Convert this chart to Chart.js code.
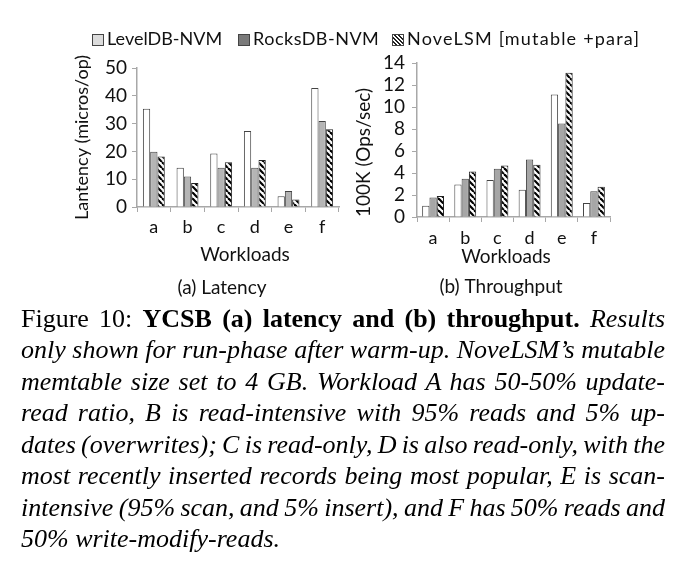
<!DOCTYPE html>
<html><head><meta charset="utf-8">
<script src="https://cdn.jsdelivr.net/npm/chart.js@4.4.1/dist/chart.umd.min.js"></script>
<style>
html,body{margin:0;padding:0;background:#fff;}
body{width:685px;height:574px;position:relative;overflow:hidden;}
canvas.c{position:absolute;left:0;top:0;}
#legend{position:absolute;top:27px;left:0;width:685px;height:24px;font-family:Lato,sans-serif;font-size:18px;color:#111;white-space:nowrap;z-index:5;line-height:22px;}
#legend span.it{position:absolute;top:0;}
#legend i{display:inline-block;width:10px;height:10px;border:1px solid #444;vertical-align:-1px;margin-right:3px;}
#caption{position:absolute;left:21px;top:302.5px;width:644px;font-family:"Liberation Serif","Times New Roman",serif;font-size:26px;line-height:31.5px;color:#000;word-spacing:-3px;}
#caption div{text-align:justify;text-align-last:justify;}
#caption div.last{text-align-last:left;word-spacing:0;}
</style></head>
<body>
<canvas id="c1" class="c" width="685" height="305"></canvas>
<canvas id="c2" class="c" width="685" height="305"></canvas>
<div id="legend"></div>
<div id="caption">
<div>Figure 10: <b>YCSB (a) latency and (b) throughput.</b> <i>Results</i></div>
<div><i>only shown for run-phase after warm-up. NoveLSM’s mutable</i></div>
<div><i>memtable size set to 4 GB. Workload A has 50-50% update-</i></div>
<div><i>read ratio, B is read-intensive with 95% reads and 5% up-</i></div>
<div><i>dates (overwrites); C is read-only, D is also read-only, with the</i></div>
<div><i>most recently inserted records being most popular, E is scan-</i></div>
<div><i>intensive (95% scan, and 5% insert), and F has 50% reads and</i></div>
<div class="last"><i>50% write-modify-reads.</i></div>
</div>
<script>
// ---- data ----
const categories = ['a', 'b', 'c', 'd', 'e', 'f'];
const seriesNames = ['LevelDB-NVM', 'RocksDB-NVM', 'NoveLSM [mutable +para]'];
const latencyLevelDB = [35.3, 14.1, 19.2, 27.3, 3.9, 42.8];
const latencyRocksDB = [19.9, 11.0, 14.1, 14.1, 5.8, 30.9];
const latencyNoveLSM = [18.2, 8.6, 16.1, 16.9, 2.7, 28.0];
const throughputLevelDB = [1.03, 2.96, 3.36, 2.48, 11.13, 1.27];
const throughputRocksDB = [1.78, 3.48, 4.38, 5.23, 8.50, 2.33];
const throughputNoveLSM = [1.90, 4.14, 4.69, 4.75, 13.12, 2.75];
const latencyTicks = [0, 10, 20, 30, 40, 50];
const throughputTicks = [0, 2, 4, 6, 8, 10, 12, 14];

// ---- hatch pattern ----
function makeHatch() {
  const s = 6;
  const p = document.createElement('canvas');
  p.width = s; p.height = s;
  const g = p.getContext('2d');
  g.fillStyle = '#fff'; g.fillRect(0, 0, s, s);
  g.strokeStyle = '#000'; g.lineWidth = 2.2;
  for (const k of [-s, 0, s]) {
    g.beginPath(); g.moveTo(k, 0); g.lineTo(k + s, s); g.stroke();
  }
  return document.getElementById('c1').getContext('2d').createPattern(p, 'repeat');
}
const hatch = makeHatch();

// ---- legend (HTML, real text) ----
const legendStyles = [
  'background:#dcdcdc;',
  'background:#7a7a7a;',
  'background:repeating-linear-gradient(45deg,#fff 0 1.5px,#222 1.5px 3px);'
];
const legendLeft = [92, 238, 392];
const legendSpacing = [0, 0.5, 1.2];
document.getElementById('legend').innerHTML = seriesNames.map((n, i) =>
  '<span class="it" style="left:' + legendLeft[i] + 'px"><i style="' + legendStyles[i] + '"></i>' +
  '<span style="letter-spacing:' + legendSpacing[i] + 'px">' + n + '</span></span>').join('');

Chart.defaults.font.family = 'Lato, sans-serif';
Chart.defaults.color = '#111';
Chart.defaults.animation = false;

// axis caption lines under each chart ("Workloads" and sub-caption)
const underText = {
  id: 'underText',
  afterDraw(chart, args, o) {
    const ctx = chart.ctx, a = chart.chartArea;
    ctx.save();
    ctx.fillStyle = '#111'; ctx.textAlign = 'center'; ctx.textBaseline = 'middle';
    for (const t of o.items) {
      ctx.font = t.size + 'px Lato, sans-serif';
      ctx.fillText(t.text, (a.left + a.right) / 2 + t.dx, a.bottom + t.dy);
    }
    ctx.restore();
  }
};

function makeChart(id, opts) {
  const ds = [
    {label: seriesNames[0], data: opts.d[0], backgroundColor: '#ffffff', borderColor: '#444', borderWidth: 1},
    {label: seriesNames[1], data: opts.d[1], backgroundColor: opts.gray, borderColor: '#444', borderWidth: 1},
    {label: seriesNames[2], data: opts.d[2], backgroundColor: hatch, borderColor: '#222', borderWidth: 1}
  ];
  ds.forEach(d => { d.categoryPercentage = opts.catPct; d.barPercentage = 1.0; });
  return new Chart(document.getElementById(id), {
    type: 'bar',
    data: {labels: categories, datasets: ds},
    plugins: [underText],
    options: {
      responsive: false,
      animation: false,
      layout: {padding: opts.pad},
      plugins: {
        legend: {display: false},
        tooltip: {enabled: false},
        title: {display: false},
        underText: {items: opts.under}
      },
      scales: {
        x: {
          grid: {display: true, drawOnChartArea: false, drawTicks: true, tickLength: 5, offset: true, color: '#a8a8a8', lineWidth: 1},
          border: {display: true, color: '#a8a8a8', width: 1.5},
          ticks: {font: {size: 18}, padding: opts.xTickPad, color: '#111', autoSkip: false, maxRotation: 0},
          title: {display: false},
          afterFit: s => { s.height = opts.xH; }
        },
        y: {
          min: 0, max: opts.max,
          afterBuildTicks: s => { s.ticks = opts.ticks.map(v => ({value: v})); },
          grid: {display: true, drawOnChartArea: false, drawTicks: true, tickLength: 5, color: '#a8a8a8', lineWidth: 1},
          border: {display: true, color: '#a8a8a8', width: 1.5},
          ticks: {font: {size: 19}, padding: opts.yTickPad, color: '#111', autoSkip: false},
          title: {display: true, text: opts.yTitle, align: opts.yAlign, font: {size: opts.yTitleSize}, color: '#111', padding: {top: opts.yTitlePad, bottom: 0}},
          afterFit: s => { s.width = opts.yW; }
        }
      }
    }
  });
}

makeChart('c1', {
  d: [latencyLevelDB, latencyRocksDB, latencyNoveLSM],
  gray: '#b5b5b5', catPct: 0.65, max: 50, ticks: latencyTicks,
  pad: {left: 50, right: 346, top: 68, bottom: 0},
  yW: 87, yTitlePad: 21, yTickPad: 5, yTitle: 'Lantency (micros/op)', yAlign: 'center', yTitleSize: 18,
  xH: 98, xTickPad: 4,
  under: [{text: 'Workloads', size: 19, dx: 7, dy: 48}, {text: '(a) Latency', size: 19, dx: -16, dy: 81}]
});
makeChart('c2', {
  d: [throughputLevelDB, throughputRocksDB, throughputNoveLSM],
  gray: '#a6a6a6', catPct: 0.68, max: 14, ticks: throughputTicks,
  pad: {left: 340, right: 75, top: 63, bottom: 0},
  yW: 77, yTitlePad: 12, yTickPad: 7, yTitle: '100K (Ops/sec)', yAlign: 'start', yTitleSize: 19,
  xH: 88, xTickPad: 5,
  under: [{text: 'Workloads', size: 19, dx: -7.5, dy: 40}, {text: '(b) Throughput', size: 19, dx: -12.5, dy: 70}]
});
</script>
</body></html>
